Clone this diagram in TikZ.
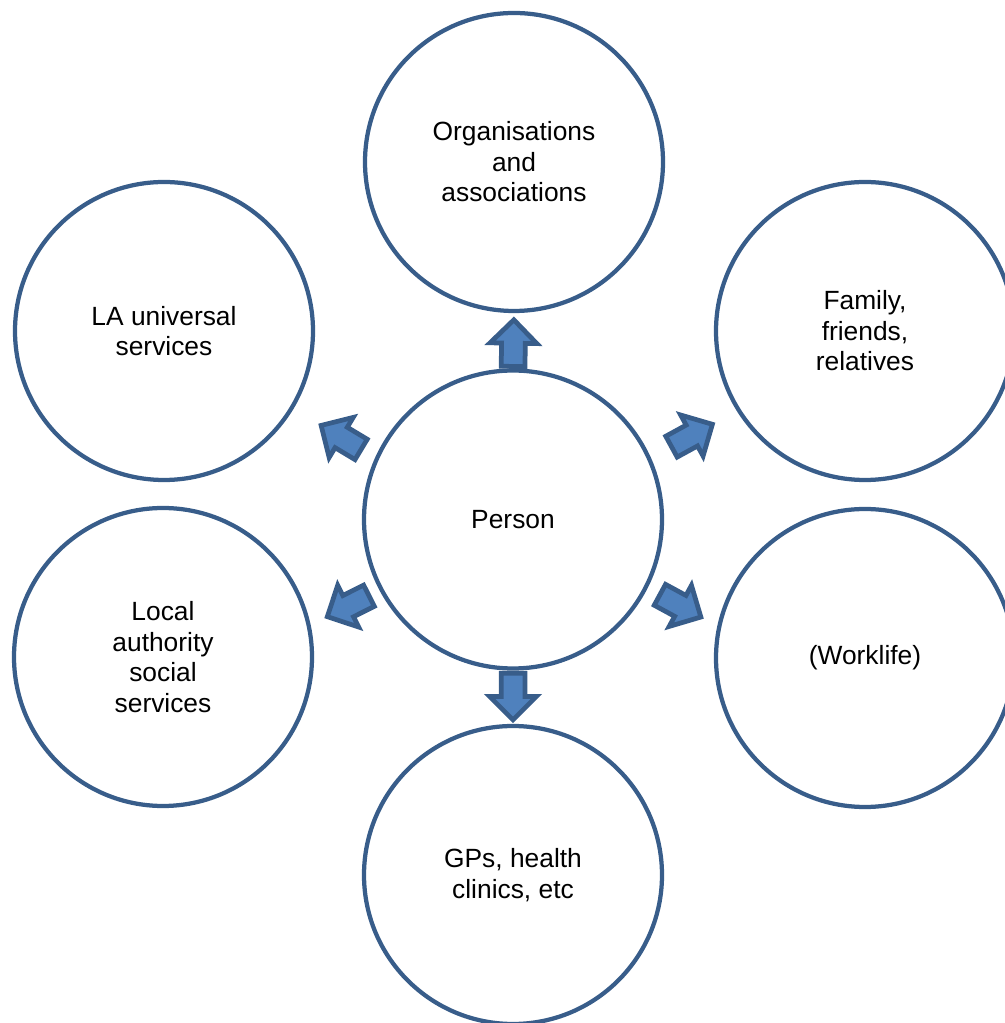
\documentclass[tikz,border=0pt]{standalone}
\usepackage{tikz}
\usetikzlibrary{shapes.arrows}
\usepackage{fontspec}
\setmainfont{Liberation Sans}
\usepackage{xcolor}
\definecolor{ringBlue}{RGB}{56,93,138}
\definecolor{arrowBlue}{RGB}{79,129,189}

\begin{document}
\begin{tikzpicture}[
        ring/.style={circle, draw=ringBlue, line width=0.085cm, minimum size=5.96cm,
            inner sep=0pt, outer sep=0pt, align=center,
            font=\fontsize{15pt}{17.4pt}\selectfont},
        push/.style={single arrow, draw=ringBlue, fill=arrowBlue, line width=0.095cm,
            single arrow head extend=0.23cm, single arrow tip angle=90,
            inner xsep=0.3cm, inner ysep=0.19cm, sloped, allow upside down}
    ]
        \useasboundingbox (0,0) rectangle (20.1,20.46);

        % centre
        \node[ring] (person) at (10.26,10.07) {Person};

        % around it
        \node[ring] (org) at (10.28,17.22) {Organisations\\and\\associations};
        \node[ring] (la) at (3.28,13.84) {LA universal\\services};
        \node[ring] (family) at (17.30,13.84) {Family,\\friends,\\relatives};
        \node[ring] (social) at (3.26,7.32) {Local\\authority\\social\\services};
        \node[ring] (work) at (17.30,7.30) {(Worklife)};
        \node[ring] (gp) at (10.26,2.96) {GPs, health\\clinics, etc};

        % block arrows
        \path (person.90) -- node[push, pos=0.36] {} (org.-90);
        \path (person.156) -- node[push, pos=0.36] {} (la.-31);
        \path (person.24) -- node[push, pos=0.42] {} (family.-148);
        \path (person.208) -- node[push, pos=0.385] {} (social.12);
        \path (person.-27) -- node[push, pos=0.40] {} (work.168);
        \path (person.-90) -- node[push, pos=0.385] {} (gp.90);
\end{tikzpicture}
\end{document}
